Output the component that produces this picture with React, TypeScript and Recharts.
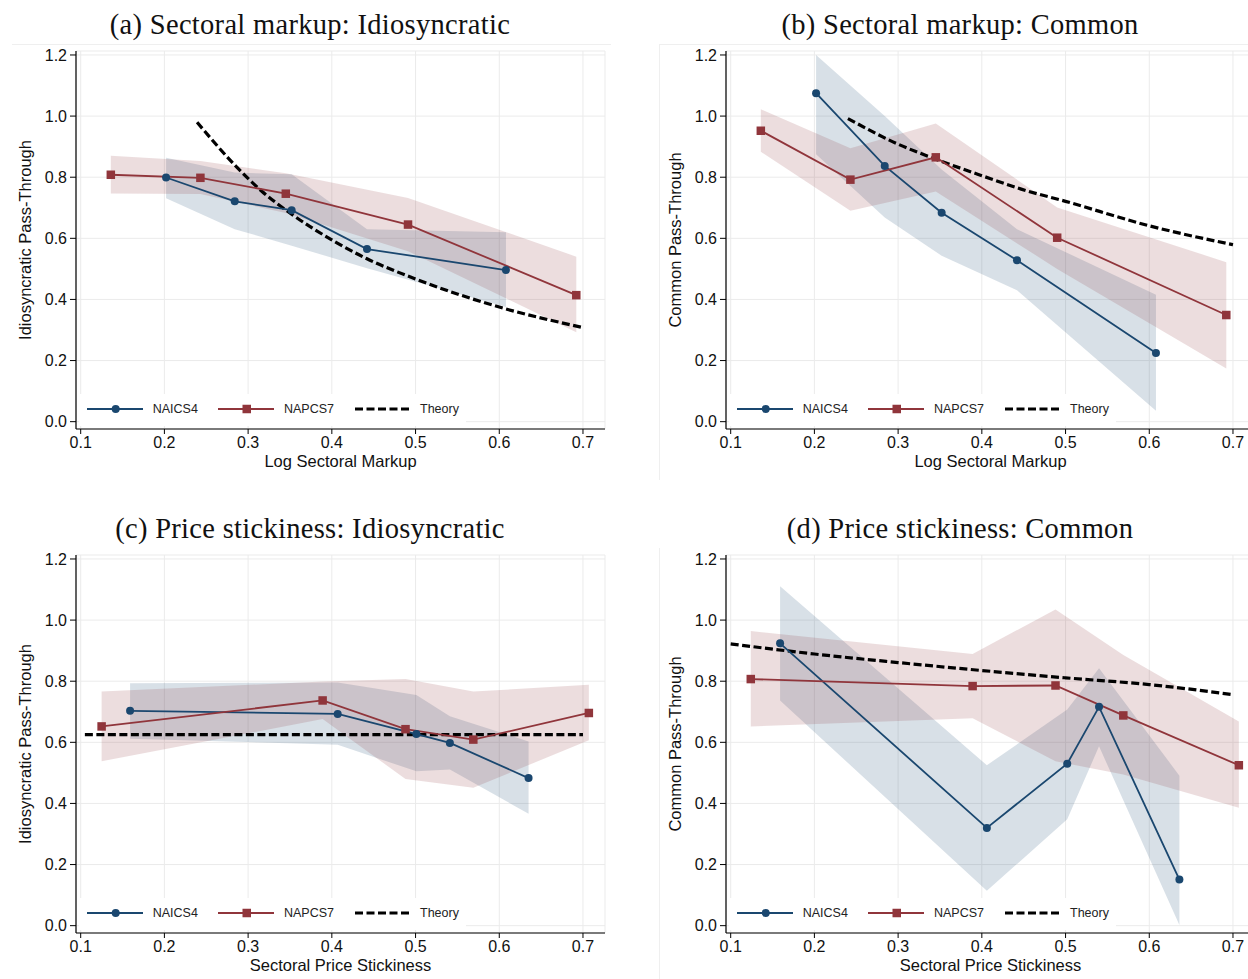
import React from 'react';
import { ComposedChart, Line, Area, XAxis, YAxis, CartesianGrid, Legend } from 'recharts';

const NAVY = '#1a476f';
const MAROON = '#90353b';

const xTicks = [0.1, 0.2, 0.3, 0.4, 0.5, 0.6, 0.7];
const yTicks = [0, 0.2, 0.4, 0.6, 0.8, 1.0, 1.2];
const seriesNames = ['NAICS4', 'NAPCS7', 'Theory'];

// (a) Sectoral markup: Idiosyncratic
const aNaicsX = [0.202, 0.284, 0.352, 0.442, 0.608];
const aNaicsY = [0.799, 0.721, 0.692, 0.565, 0.496];
const aNaicsLo = [0.731, 0.63, 0.576, 0.502, 0.375];
const aNaicsHi = [0.864, 0.815, 0.81, 0.63, 0.62];
const aNapcsX = [0.136, 0.243, 0.345, 0.491, 0.692];
const aNapcsY = [0.808, 0.798, 0.746, 0.645, 0.414];
const aNapcsLo = [0.747, 0.745, 0.683, 0.558, 0.293];
const aNapcsHi = [0.87, 0.853, 0.813, 0.732, 0.54];
const aTheoryX = [0.239, 0.284, 0.316, 0.352, 0.405, 0.442, 0.5, 0.6, 0.7];
const aTheoryY = [0.98, 0.84, 0.755, 0.679, 0.587, 0.533, 0.467, 0.375, 0.308];

// (b) Sectoral markup: Common
const bNaicsX = [0.202, 0.284, 0.352, 0.442, 0.608];
const bNaicsY = [1.075, 0.837, 0.684, 0.528, 0.225];
const bNaicsLo = [0.875, 0.668, 0.543, 0.43, 0.036];
const bNaicsHi = [1.2, 1.0, 0.825, 0.63, 0.415];
const bNapcsX = [0.136, 0.243, 0.345, 0.49, 0.692];
const bNapcsY = [0.952, 0.792, 0.865, 0.602, 0.349];
const bNapcsLo = [0.883, 0.69, 0.753, 0.5, 0.174];
const bNapcsHi = [1.022, 0.895, 0.976, 0.701, 0.522];
const bTheoryX = [0.24, 0.3, 0.345, 0.4, 0.447, 0.5, 0.6, 0.7];
const bTheoryY = [0.992, 0.908, 0.859, 0.805, 0.761, 0.721, 0.641, 0.579];

// (c) Price stickiness: Idiosyncratic
const cNaicsX = [0.159, 0.407, 0.501, 0.541, 0.635];
const cNaicsY = [0.703, 0.693, 0.627, 0.598, 0.483];
const cNaicsLo = [0.612, 0.592, 0.505, 0.511, 0.366];
const cNaicsHi = [0.793, 0.796, 0.755, 0.685, 0.603];
const cNapcsX = [0.125, 0.389, 0.488, 0.569, 0.707];
const cNapcsY = [0.652, 0.737, 0.643, 0.609, 0.696];
const cNapcsLo = [0.538, 0.676, 0.48, 0.451, 0.607];
const cNapcsHi = [0.766, 0.799, 0.807, 0.766, 0.788];
const cTheoryX = [0.105, 0.7];
const cTheoryY = [0.625, 0.625];

// (d) Price stickiness: Common
const dNaicsX = [0.159, 0.406, 0.502, 0.54, 0.636];
const dNaicsY = [0.924, 0.32, 0.53, 0.716, 0.151];
const dNaicsLo = [0.737, 0.114, 0.348, 0.587, 0.002];
const dNaicsHi = [1.111, 0.525, 0.707, 0.842, 0.491];
const dNapcsX = [0.124, 0.389, 0.488, 0.569, 0.707];
const dNapcsY = [0.807, 0.784, 0.786, 0.688, 0.525];
const dNapcsLo = [0.652, 0.679, 0.538, 0.495, 0.386];
const dNapcsHi = [0.964, 0.889, 1.035, 0.886, 0.668];
const dTheoryX = [0.1, 0.2, 0.3, 0.4, 0.5, 0.6, 0.7];
const dTheoryY = [0.922, 0.889, 0.861, 0.835, 0.811, 0.789, 0.756];

type Row = {
  x: number;
  naics?: number;
  naicsBand?: [number, number];
  napcs?: number;
  napcsBand?: [number, number];
  theory?: number;
};

function buildRows(
  nx: number[], ny: number[], nlo: number[], nhi: number[],
  px: number[], py: number[], plo: number[], phi: number[],
  tx: number[], ty: number[]
): Row[] {
  const rows: Row[] = [];
  nx.forEach((x, i) => rows.push({ x, naics: ny[i], naicsBand: [nlo[i], nhi[i]] }));
  px.forEach((x, i) => rows.push({ x, napcs: py[i], napcsBand: [plo[i], phi[i]] }));
  tx.forEach((x, i) => rows.push({ x, theory: ty[i] }));
  return rows.sort((a, b) => a.x - b.x);
}

const CircleDot = (props: any) => {
  const { cx, cy, index } = props;
  if (cx == null || cy == null) return <g key={`c-${index}`} />;
  return <circle key={`c-${index}`} cx={cx} cy={cy} r={4} fill={NAVY} />;
};

const SquareDot = (props: any) => {
  const { cx, cy, index } = props;
  if (cx == null || cy == null) return <g key={`s-${index}`} />;
  return <rect key={`s-${index}`} x={cx - 4.25} y={cy - 4.25} width={8.5} height={8.5} fill={MAROON} />;
};

function LegendBox() {
  return (
    <svg width={387} height={32} style={{ display: 'block', background: '#fff' }}>
      <line x1={8} x2={64} y1={15} y2={15} stroke={NAVY} strokeWidth={2} />
      <circle cx={36.7} cy={15} r={4} fill={NAVY} />
      <text x={73.7} y={19.3} fontSize={12.5} fill="#222">{seriesNames[0]}</text>
      <line x1={139} x2={195} y1={15} y2={15} stroke={MAROON} strokeWidth={2} />
      <rect x={163.5} y={10.75} width={8.5} height={8.5} fill={MAROON} />
      <text x={205} y={19.3} fontSize={12.5} fill="#222">{seriesNames[1]}</text>
      <line x1={276} x2={332} y1={15} y2={15} stroke="#000" strokeWidth={3.2} strokeDasharray="8 3.5" />
      <text x={341} y={19.3} fontSize={12.5} fill="#222">{seriesNames[2]}</text>
    </svg>
  );
}

type PanelProps = {
  left: number;
  top: number;
  title: string;
  xLabel: string;
  yLabel: string;
  rows: Row[];
};

function Panel({ left, top, title, xLabel, yLabel, rows }: PanelProps) {
  return (
    <div style={{ position: 'absolute', left, top, width: 620, height: 490 }}>
      <div
        style={{
          position: 'absolute', left: 0, top: 9, width: 620, textAlign: 'center',
          fontFamily: '"Liberation Serif", "DejaVu Serif", serif', fontSize: 28.5, letterSpacing: 0.3,
          lineHeight: '32px', color: '#111',
        }}
      >
        {title}
      </div>
      <ComposedChart width={620} height={490} data={rows} margin={{ top: 51, right: 15, bottom: 0, left: 0 }}>
        <CartesianGrid stroke="#ebebeb" strokeWidth={1} />
        <XAxis
          type="number"
          dataKey="x"
          domain={[0.0944, 0.7263]}
          allowDataOverflow
          ticks={xTicks}
          interval={0}
          tickFormatter={(v: number) => v.toFixed(1)}
          tick={{ fontSize: 16, fill: '#111' }}
          axisLine={{ stroke: '#000', strokeWidth: 1.2 }}
          tickLine={{ stroke: '#000' }}
          tickSize={5}
          tickMargin={3}
          height={61}
          label={() => (
            <text x={340.5} y={467} textAnchor="middle" fontSize={16.5} fill="#111">{xLabel}</text>
          )}
        />
        <YAxis
          type="number"
          domain={[-0.024, 1.213]}
          allowDataOverflow
          ticks={yTicks}
          interval={0}
          tickFormatter={(v: number) => v.toFixed(1)}
          tick={{ fontSize: 16, fill: '#111' }}
          axisLine={{ stroke: '#000', strokeWidth: 1.2 }}
          tickLine={{ stroke: '#000' }}
          tickSize={6}
          tickMargin={3}
          width={76}
          label={() => (
            <text x={30.5} y={240} textAnchor="middle" fontSize={16.5} fill="#111" transform="rotate(-90, 30.5, 240)">
              {yLabel}
            </text>
          )}
        />
        <Area dataKey="naicsBand" type="linear" stroke="none" fill={NAVY} fillOpacity={0.17}
          connectNulls dot={false} activeDot={false} isAnimationActive={false} />
        <Area dataKey="napcsBand" type="linear" stroke="none" fill={MAROON} fillOpacity={0.17}
          connectNulls dot={false} activeDot={false} isAnimationActive={false} />
        <Line dataKey="theory" type="monotone" stroke="#000" strokeWidth={3.2} strokeDasharray="8 3.5"
          connectNulls dot={false} activeDot={false} isAnimationActive={false} />
        <Line dataKey="naics" type="linear" stroke={NAVY} strokeWidth={1.8}
          connectNulls dot={CircleDot} activeDot={false} isAnimationActive={false} />
        <Line dataKey="napcs" type="linear" stroke={MAROON} strokeWidth={1.8}
          connectNulls dot={SquareDot} activeDot={false} isAnimationActive={false} />
        <Legend
          layout="horizontal"
          verticalAlign="middle"
          align="center"
          wrapperStyle={{ left: 79, top: 394, width: 387, height: 32 }}
          content={() => <LegendBox />}
        />
      </ComposedChart>
    </div>
  );
}

export default function App() {
  const aRows = buildRows(aNaicsX, aNaicsY, aNaicsLo, aNaicsHi, aNapcsX, aNapcsY, aNapcsLo, aNapcsHi, aTheoryX, aTheoryY);
  const bRows = buildRows(bNaicsX, bNaicsY, bNaicsLo, bNaicsHi, bNapcsX, bNapcsY, bNapcsLo, bNapcsHi, bTheoryX, bTheoryY);
  const cRows = buildRows(cNaicsX, cNaicsY, cNaicsLo, cNaicsHi, cNapcsX, cNapcsY, cNapcsLo, cNapcsHi, cTheoryX, cTheoryY);
  const dRows = buildRows(dNaicsX, dNaicsY, dNaicsLo, dNaicsHi, dNapcsX, dNapcsY, dNapcsLo, dNapcsHi, dTheoryX, dTheoryY);

  return (
    <div
      style={{
        position: 'absolute', left: 0, top: 0, width: 1248, height: 979, overflow: 'hidden',
        background: '#fff', fontFamily: '"Liberation Sans", Arial, sans-serif',
      }}
    >
      {/* faint graph-region borders */}
      <div style={{ position: 'absolute', left: 12, top: 44, width: 599, height: 1, background: '#efefef' }} />
      <div style={{ position: 'absolute', left: 659, top: 44, width: 589, height: 1, background: '#efefef' }} />
      <div style={{ position: 'absolute', left: 659, top: 44, width: 1, height: 436, background: '#efefef' }} />
      <div style={{ position: 'absolute', left: 659, top: 548, width: 1, height: 431, background: '#efefef' }} />

      <Panel left={0} top={0} title="(a) Sectoral markup: Idiosyncratic" xLabel="Log Sectoral Markup"
        yLabel="Idiosyncratic Pass-Through" rows={aRows} />
      <Panel left={650} top={0} title="(b) Sectoral markup: Common" xLabel="Log Sectoral Markup"
        yLabel="Common Pass-Through" rows={bRows} />
      <Panel left={0} top={504} title="(c) Price stickiness: Idiosyncratic" xLabel="Sectoral Price Stickiness"
        yLabel="Idiosyncratic Pass-Through" rows={cRows} />
      <Panel left={650} top={504} title="(d) Price stickiness: Common" xLabel="Sectoral Price Stickiness"
        yLabel="Common Pass-Through" rows={dRows} />
    </div>
  );
}
